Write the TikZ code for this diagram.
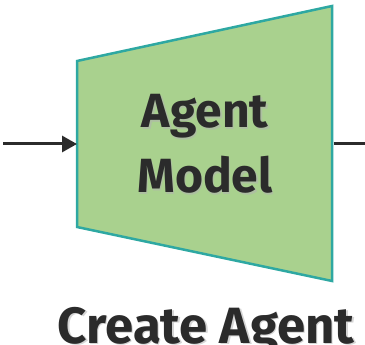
\documentclass[tikz,border=0pt]{standalone}
\usepackage{fontspec}
\setmainfont{Fira Sans}[UprightFont=* SemiBold, BoldFont=* Bold]
\usetikzlibrary{arrows.meta}
\definecolor{boxfill}{HTML}{A9D18E}
\definecolor{boxedge}{HTML}{2EA8A2}
\definecolor{ink}{HTML}{2B2B2B}
\tikzset{
  x=1pt, y=-1pt,
  modelbox/.style={fill=boxfill, draw=boxedge, line width=2.5pt, line join=miter},
  flow/.style={draw=ink, line width=3pt},
  label/.style={text=ink, align=center, inner sep=0pt, font=\bfseries\fontsize{48}{64}\selectfont},
  caption/.style={text=ink, inner sep=0pt, font=\bfseries\fontsize{51}{60}\selectfont},
  shade/.style={text=black!30, opacity=0.55},
}
\begin{document}
\begin{tikzpicture}
\useasboundingbox (0,0) rectangle (365,345);
% trapezoid corners
\coordinate (tl) at (77,61);
\coordinate (tr) at (332,6);
\coordinate (br) at (332,281);
\coordinate (bl) at (77,227);
\path[modelbox] (tl) -- (tr) -- (br) -- (bl) -- cycle;
\coordinate (inport) at (77,144);
\coordinate (outport) at (333.5,144);
\coordinate (src) at (3,144);
\coordinate (dst) at (365,144);
% body text with a soft drop shadow
\node[label, shade, anchor=base] at (206.5,129.5) {Agent};
\node[label, shade, anchor=base] at (206.5,194.5) {Model};
\node[label, anchor=base] (agent) at (205,128) {Agent};
\node[label, anchor=base] (model) at (205,193) {Model};
% connectors
\draw[flow, -{Triangle[length=15pt,width=16pt]}] (src) -- (inport);
\draw[flow] (outport) -- (dst);
% caption
\node[caption, shade, anchor=base] at (207.5,344.5) {Create Agent};
\node[caption, anchor=base] (caption) at (206,343) {Create Agent};
\end{tikzpicture}
\end{document}
